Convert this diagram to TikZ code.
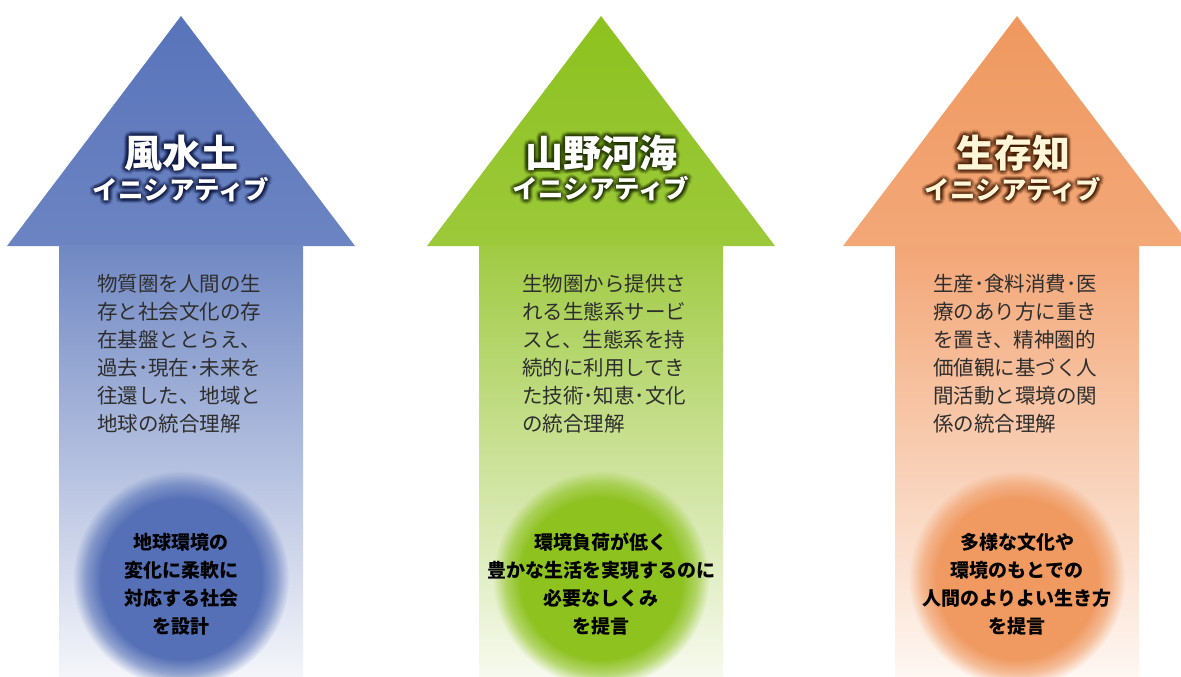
\documentclass[tikz,border=0pt]{standalone}
\usepackage{fontspec}
\newfontfamily\jp{Noto Sans CJK JP}
\usetikzlibrary{fadings}
\definecolor{bTriA}{HTML}{5874BA}
\definecolor{bTriB}{HTML}{6C84C2}
\definecolor{bShA}{HTML}{7088C3}
\definecolor{bShB}{HTML}{F5F6FB}
\definecolor{bCir}{HTML}{5570B6}
\definecolor{bGlow}{HTML}{0C1640}
\definecolor{gTriA}{HTML}{8CC21F}
\definecolor{gTriB}{HTML}{9CC93A}
\definecolor{gShA}{HTML}{A0CA42}
\definecolor{gShB}{HTML}{F7FAEF}
\definecolor{gCir}{HTML}{8DC21F}
\definecolor{gGlow}{HTML}{1C2E00}
\definecolor{oTriA}{HTML}{EF985F}
\definecolor{oTriB}{HTML}{F3A878}
\definecolor{oShA}{HTML}{F3A676}
\definecolor{oShB}{HTML}{FEF7F2}
\definecolor{oCir}{HTML}{F09A62}
\definecolor{oGlow}{HTML}{401800}
\definecolor{oTitle}{HTML}{FFF6D8}
\definecolor{bodytext}{HTML}{2E2E2E}
\pgfdeclareradialshading{circfadeshade}{\pgfpoint{0bp}{0bp}}{color(0bp)=(pgftransparent!0); color(18.5bp)=(pgftransparent!0); color(22bp)=(pgftransparent!40); color(25bp)=(pgftransparent!100); color(50bp)=(pgftransparent!100)}
\pgfdeclarefading{circfade}{\pgfuseshading{circfadeshade}}
\tikzset{
  body/.style={font=\jp\fontsize{20.5}{28}\selectfont, text=bodytext, align=left, inner sep=0pt, anchor=north west},
  circtext/.style={font=\jp\bfseries\fontsize{19}{28}\selectfont, text=black, align=center, inner sep=0pt},
  bigtitle/.style={font=\jp\bfseries\fontsize{38}{40}\selectfont, inner sep=0pt},
  subtitle/.style={font=\jp\bfseries\fontsize{25.5}{27}\selectfont, inner sep=0pt},
}
\newcommand\glowtext[6]{%
  \foreach \ang in {0,30,...,330}{\foreach \rr in {1.5,3,4.5}{%
    \node[#5, text=#3, text opacity=0.13] at ([shift={(\ang:\rr)}]#2) {#6};}}%
  \node[#5, text=#4] (#1) at (#2) {#6};}
\begin{document}
\begin{tikzpicture}[x=1pt,y=-1pt]
\useasboundingbox (0,0) rectangle (1181,677);
% ---------- arrow 1 (blue)
\shade[top color=bTriA, bottom color=bTriB] (7,246) -- (181,16) -- (355,246) -- cycle;
\shade[top color=bShA, bottom color=bShB] (59,245.5) rectangle (303,677);
\coordinate (o1) at (181,579);
\fill[bCir, path fading=circfade] (o1) circle (108);
\coordinate (k1) at (181,153);
\coordinate (s1) at (181,190);
\glowtext{ti1}{k1}{bGlow}{white}{bigtitle}{風水土}
\glowtext{su1}{s1}{bGlow}{white}{subtitle}{イニシアティブ}
\node[body] (b1) at (97,274) {物質圏を人間の生\\存と社会文化の存\\在基盤ととらえ、\\過去･現在･未来を\\往還した、地域と\\地球の統合理解};
\node[circtext] (m1) at (181,584) {地球環境の\\変化に柔軟に\\対応する社会\\を設計};
% ---------- arrow 2 (green)
\shade[top color=gTriA, bottom color=gTriB] (427,246) -- (601,16) -- (775,246) -- cycle;
\shade[top color=gShA, bottom color=gShB] (479,245.5) rectangle (723,677);
\coordinate (o2) at (601,579);
\fill[gCir, path fading=circfade] (o2) circle (108);
\coordinate (k2) at (601,153);
\coordinate (s2) at (601,189);
\glowtext{ti2}{k2}{gGlow}{white}{bigtitle}{山野河海}
\glowtext{su2}{s2}{gGlow}{white}{subtitle}{イニシアティブ}
\node[body] (b2) at (522,274) {生物圏から提供さ\\れる生態系サービ\\スと、生態系を持\\続的に利用してき\\た技術･知恵･文化\\の統合理解};
\node[circtext] (m2) at (601,584) {環境負荷が低く\\豊かな生活を実現するのに\\必要なしくみ\\を提言};
% ---------- arrow 3 (orange)
\shade[top color=oTriA, bottom color=oTriB] (843,246) -- (1017,16) -- (1191,246) -- cycle;
\shade[top color=oShA, bottom color=oShB] (895,245.5) rectangle (1139,677);
\coordinate (o3) at (1017,579);
\fill[oCir, path fading=circfade] (o3) circle (108);
\coordinate (k3) at (1013,153);
\coordinate (s3) at (1013,190);
\glowtext{ti3}{k3}{oGlow}{oTitle}{bigtitle}{生存知}
\glowtext{su3}{s3}{oGlow}{oTitle}{subtitle}{イニシアティブ}
\node[body] (b3) at (933,274) {生産･食料消費･医\\療のあり方に重き\\を置き、精神圏的\\価値観に基づく人\\間活動と環境の関\\係の統合理解};
\node[circtext] (m3) at (1017,584) {多様な文化や\\環境のもとでの\\人間のよりよい生き方\\を提言};
\end{tikzpicture}
\end{document}
